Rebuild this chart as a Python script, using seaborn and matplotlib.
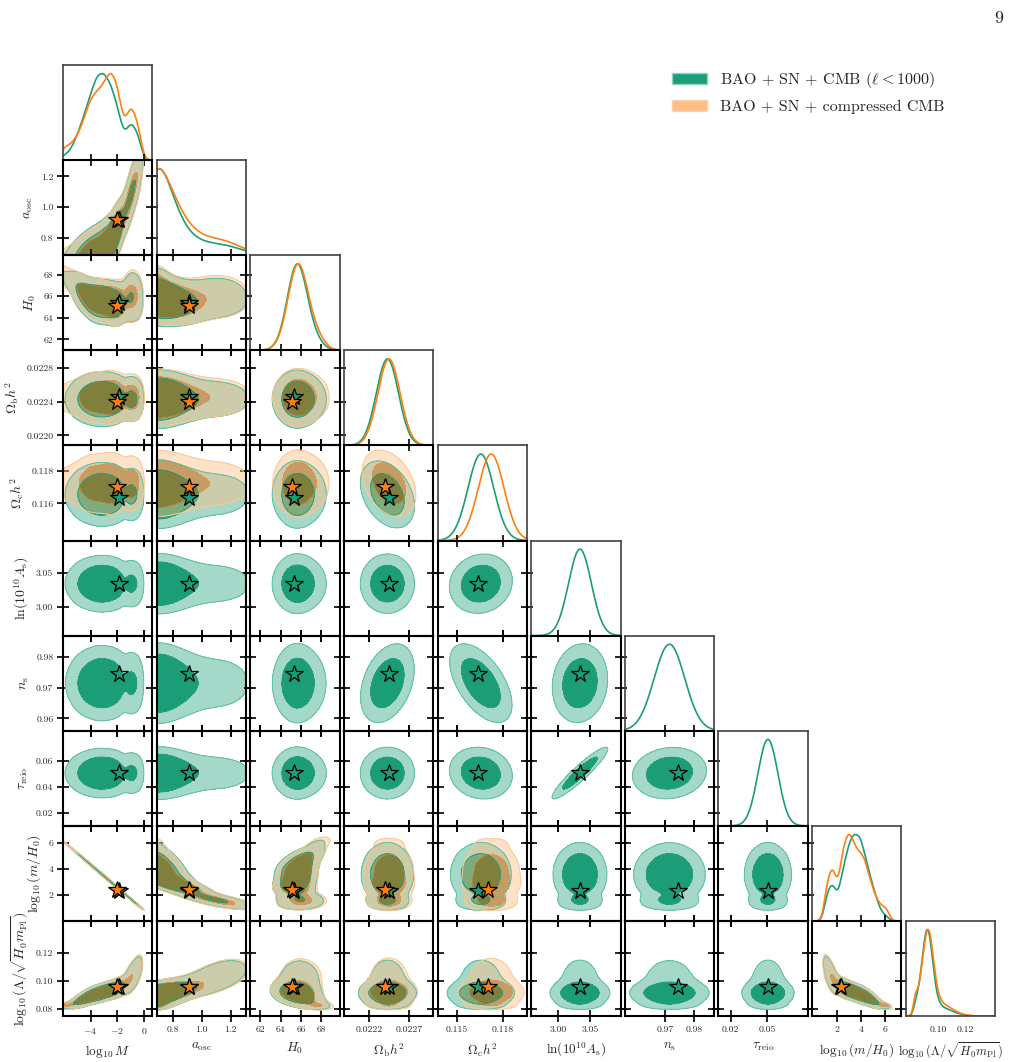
import numpy as np
import matplotlib
matplotlib.use("Agg")
import matplotlib.pyplot as plt
import seaborn as sns
from matplotlib.patches import Patch

# ---- parameters: labels, plot ranges, ticks ----
labels = [r'$\log_{10}M$', r'$a_{\rm osc}$', r'$H_0$', r'$\Omega_{\rm b}h^2$', r'$\Omega_{\rm c}h^2$',
          r'$\ln(10^{10}A_{\rm s})$', r'$n_{\rm s}$', r'$\tau_{\rm reio}$',
          r'$\log_{10}(m/H_0)$', r'$\log_{10}(\Lambda/\sqrt{H_0m_{\rm Pl}})$']
lims = [(-6.05, 0.62), (0.69, 1.305), (61.0, 69.8), (0.02188, 0.02301), (0.1137, 0.1196),
        (2.957, 3.098), (0.956, 0.987), (0.010, 0.0836), (-0.03, 7.35), (0.0748, 0.1428)]
xticks = [[-4, -2, 0], [0.8, 1.0, 1.2], [62, 64, 66, 68], [0.0222, 0.0227], [0.115, 0.118],
          [3.00, 3.05], [0.97, 0.98], [0.02, 0.05], [2, 4, 6], [0.10, 0.12]]
xticklabels = [['$-4$', '$-2$', '$0$'], ['0.8', '1.0', '1.2'], ['62', '64', '66', '68'],
               ['0.0222', '0.0227'], ['0.115', '0.118'], ['3.00', '3.05'], ['0.97', '0.98'],
               ['0.02', '0.05'], ['2', '4', '6'], ['0.10', '0.12']]
yticks = [[], [0.8, 1.0, 1.2], [62, 64, 66, 68], [0.0220, 0.0224, 0.0228], [0.116, 0.118],
          [3.00, 3.05], [0.96, 0.97, 0.98], [0.02, 0.04, 0.06], [2, 4, 6], [0.08, 0.10, 0.12]]
yticklabels = [[], ['0.8', '1.0', '1.2'], ['62', '64', '66', '68'], ['0.0220', '0.0224', '0.0228'],
               ['0.116', '0.118'], ['3.00', '3.05'], ['0.96', '0.97', '0.98'],
               ['0.02', '0.04', '0.06'], ['2', '4', '6'], ['0.08', '0.10', '0.12']]

# ---- posterior ----
# non-gaussian block (log10M, a_osc, H0, log10 m/H0, log10 Lambda) as points along the degeneracy
anc_logM = [-6.0, -5.5, -5.0, -4.5, -4.0, -3.5, -3.0, -2.5, -2.0, -1.5, -1.0, -0.5]
anc_logm = [6.12, 5.68, 5.23, 4.79, 4.34, 3.90, 3.45, 3.01, 2.56, 2.12, 1.67, 1.23]
anc_aosc = [0.66, 0.67, 0.675, 0.68, 0.69, 0.70, 0.73, 0.78, 0.86, 0.95, 1.08, 1.20]
anc_aosc_sd = [0.05, 0.06, 0.07, 0.08, 0.085, 0.09, 0.09, 0.09, 0.09, 0.09, 0.10, 0.10]
anc_logL = [0.0820, 0.0830, 0.0850, 0.0870, 0.0890, 0.0905, 0.0920, 0.0935, 0.0950, 0.0975, 0.1020, 0.1080]
anc_logL_sd = [0.0012, 0.0018, 0.0024, 0.0027, 0.0028, 0.0028, 0.0029, 0.0030, 0.0033, 0.0040, 0.0060, 0.0070]
anc_H0_sd = [0.6, 0.7, 0.9, 0.9, 0.9, 0.9, 0.9, 0.9, 1.0, 1.1, 1.3, 1.3]

green_H0 = [67.8, 67.3, 66.7, 66.2, 65.8, 65.6, 65.5, 65.4, 65.3, 65.5, 65.9, 65.8]
green_w = [0.05, 0.11, 0.28, 0.50, 0.75, 0.98, 1.00, 0.87, 0.62, 0.27, 0.45, 0.33]
orange_H0 = [67.9, 67.4, 66.8, 66.3, 65.9, 65.7, 65.6, 65.5, 65.4, 65.6, 66.0, 65.9]
orange_w = [0.14, 0.16, 0.25, 0.42, 0.65, 0.72, 0.80, 0.95, 0.80, 0.35, 0.60, 0.42]

# gaussian block (Omega_b h^2, Omega_c h^2, ln10^10 As, ns, tau)
green_std_mean = [0.02243, 0.11656, 3.034, 0.9715, 0.0508]
green_std_sd = [0.00014, 0.00085, 0.018, 0.0053, 0.0082]
green_std_corr = [[1.00, -0.35, 0.00, 0.35, 0.00],
                  [-0.35, 1.00, 0.10, -0.55, -0.10],
                  [0.00, 0.10, 1.00, 0.10, 0.93],
                  [0.35, -0.55, 0.10, 1.00, 0.10],
                  [0.00, -0.10, 0.93, 0.10, 1.00]]
orange_std_mean = [0.02245, 0.11724]
orange_std_sd = [0.00014, 0.00085]
orange_std_corr = [[1.00, -0.35], [-0.35, 1.00]]

# best-fit points (stars)
green_best = [-1.9, 0.915, 65.35, 0.02245, 0.11635, 3.034, 0.9746, 0.0509, 2.3, 0.0955]
orange_best = [-2.05, 0.915, 65.1, 0.02240, 0.11700, None, None, None, 2.4, 0.0952]

legend_labels = [r'BAO + SN + CMB ($\ell<1000$)', 'BAO + SN + compressed CMB']

GREEN = '#1b9e77'
ORANGE = '#ff7f0e'
EXO = {0: 0, 1: 1, 2: 2, 8: 3, 9: 4}
STD = {3: 0, 4: 1, 5: 2, 6: 3, 7: 4}


def build_chain(H0, w, smean, ssd, scorr, params):
    K = len(w)
    mu = np.column_stack([anc_logM, anc_aosc, H0, anc_logm, anc_logL])
    sd = np.column_stack([np.full(K, 0.04), anc_aosc_sd, anc_H0_sd, np.full(K, 0.04), anc_logL_sd])
    covs = []
    for k in range(K):
        lo, hi = max(k - 1, 0), min(k + 1, K - 1)
        t = (mu[hi] - mu[lo]) / (hi - lo)
        covs.append(np.diag(sd[k] ** 2) + 0.6 ** 2 * np.outer(t, t))
    ssd = np.array(ssd)
    return dict(mu=mu, cov=covs, w=np.array(w) / np.sum(w), smean=np.array(smean),
                scov=np.outer(ssd, ssd) * np.array(scorr), params=params)


def gauss1(x, m, v):
    return np.exp(-0.5 * (x - m) ** 2 / v) / np.sqrt(2 * np.pi * v)


def gauss2(X, Y, mx, my, C):
    det = C[0, 0] * C[1, 1] - C[0, 1] ** 2
    dx, dy = X - mx, Y - my
    q = (C[1, 1] * dx ** 2 - 2 * C[0, 1] * dx * dy + C[0, 0] * dy ** 2) / det
    return np.exp(-0.5 * q) / (2 * np.pi * np.sqrt(det))


def pdf1(ch, p, x):
    if p in EXO:
        a = EXO[p]
        return sum(ch['w'][k] * gauss1(x, ch['mu'][k][a], ch['cov'][k][a, a]) for k in range(len(ch['w'])))
    a = STD[p]
    return gauss1(x, ch['smean'][a], ch['scov'][a, a])


def pdf2(ch, p, q, X, Y):
    if p in EXO and q in EXO:
        a, b = EXO[p], EXO[q]
        Z = np.zeros_like(X)
        for k in range(len(ch['w'])):
            C = ch['cov'][k][np.ix_([a, b], [a, b])]
            Z += ch['w'][k] * gauss2(X, Y, ch['mu'][k][a], ch['mu'][k][b], C)
        return Z
    if p in STD and q in STD:
        a, b = STD[p], STD[q]
        C = ch['scov'][np.ix_([a, b], [a, b])]
        return gauss2(X, Y, ch['smean'][a], ch['smean'][b], C)
    return pdf1(ch, p, X) * pdf1(ch, q, Y)


def hpd_levels(Z):
    z = np.sort(Z.ravel())[::-1]
    c = np.cumsum(z)
    c /= c[-1]
    return z[np.searchsorted(c, 0.68)], z[np.searchsorted(c, 0.95)]


green = build_chain(green_H0, green_w, green_std_mean, green_std_sd, green_std_corr, list(range(10)))
orange = build_chain(orange_H0, orange_w, orange_std_mean, orange_std_sd, orange_std_corr,
                     [0, 1, 2, 3, 4, 8, 9])

sns.set_style("ticks")
plt.rcParams['font.family'] = ['cmr10', 'DejaVu Serif']
plt.rcParams['mathtext.fontset'] = 'cm'
plt.rcParams['axes.formatter.use_mathtext'] = True
plt.rcParams['axes.unicode_minus'] = False

fig, axes = plt.subplots(10, 10, figsize=(10.15, 10.62),
                         gridspec_kw=dict(left=0.0621, right=0.9803, top=0.9388, bottom=0.0433,
                                          wspace=0.047, hspace=0.0))

for i in range(10):
    for j in range(10):
        ax = axes[i, j]
        if j > i:
            ax.remove()
            continue
        ax.set_facecolor('none')
        x = np.linspace(lims[j][0], lims[j][1], 300)
        if i == j:
            for ch, col in ((green, GREEN), (orange, ORANGE)):
                if i in ch['params']:
                    y = pdf1(ch, i, x)
                    sns.lineplot(x=x, y=y / y.max(), ax=ax, color=col, lw=1.2)
            ax.set_ylim(0, 1.1)
            ax.set_yticks([])
            ax.set_ylabel('')
            for s in ax.spines.values():
                s.set_color('0.25')
                s.set_linewidth(1.2)
            if i == 9:
                ax.set_xticks(xticks[j])
                ax.set_xticklabels(xticklabels[j])
                ax.tick_params(length=0, labelsize=7, pad=7)
            else:
                ax.set_xticks([])
        else:
            xs = np.linspace(lims[j][0], lims[j][1], 160)
            ys = np.linspace(lims[i][0], lims[i][1], 160)
            X, Y = np.meshgrid(xs, ys)
            both_orange = i in orange['params'] and j in orange['params']
            # green chain
            Z = pdf2(green, j, i, X, Y)
            l68, l95 = hpd_levels(Z)
            top = Z.max() * 1.01
            ax.contourf(X, Y, Z, levels=[l95, l68, top], colors=['#a4d8c9', GREEN])
            ax.contour(X, Y, Z, levels=[l95, l68], colors=['#5dbf9e', '#2a9e7a'], linewidths=0.7)
            # orange chain
            if both_orange:
                Z = pdf2(orange, j, i, X, Y)
                l68, l95 = hpd_levels(Z)
                top = Z.max() * 1.01
                ax.contourf(X, Y, Z, levels=[l95, l68], colors=['#fdbf86'], alpha=0.45)
                ax.contourf(X, Y, Z, levels=[l68, top], colors=['#e56200'], alpha=0.5)
                ax.contour(X, Y, Z, levels=[l95], colors=['#fcc896'], linewidths=0.7)
            ax.plot(green_best[j], green_best[i], marker='*', ms=13, ls='none',
                    mfc=GREEN if both_orange else 'none', mec='k', mew=0.9, zorder=5)
            if both_orange:
                ax.plot(orange_best[j], orange_best[i], marker='*', ms=13, ls='none',
                        mfc=ORANGE, mec='k', mew=0.9, zorder=6)
            ax.set_ylim(lims[i])
            ax.set_yticks(yticks[i])
            ax.set_xticks(xticks[j])
            ax.set_xticklabels(xticklabels[j] if i == 9 else [])
            ax.set_yticklabels(yticklabels[i] if j == 0 else [])
            ax.tick_params(direction='inout', length=8, width=1.2, top=True, right=True,
                           labelsize=7, pad=3, color='k')
            for s in ax.spines.values():
                s.set_color('k')
                s.set_linewidth(1.5)
            if j == 0:
                ax.set_ylabel(labels[i], fontsize=10)
        ax.set_xlim(lims[j])
        if i == 9:
            ax.set_xlabel(labels[j], fontsize=9 if j == 9 else 9.5, labelpad=5)
        elif i != j:
            ax.set_xlabel('')

handles = [Patch(facecolor=GREEN, edgecolor='#8fd1bd'), Patch(facecolor='#fdbf86', edgecolor='#fdd3ad')]
fig.legend(handles, legend_labels, loc='upper left', bbox_to_anchor=(0.662, 0.934),
           frameon=False, fontsize=11.5, handlelength=2.2, handleheight=0.75,
           handletextpad=0.8, labelspacing=0.6, borderpad=0, borderaxespad=0)
fig.text(0.988, 0.99, '9', ha='right', va='top', fontsize=13)

fig.savefig('out.png', dpi=100)
